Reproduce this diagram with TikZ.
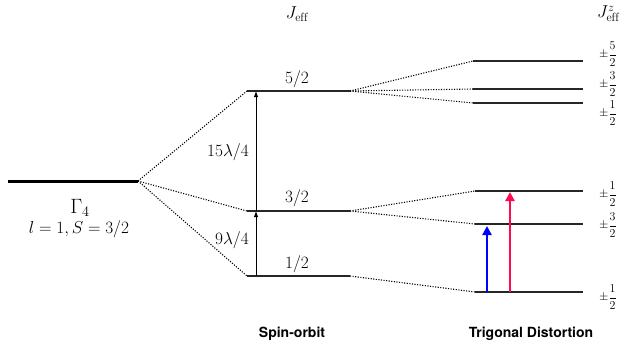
\documentclass[tikz,border=0pt]{standalone}
\usepackage{fontspec}
\newfontfamily\helv{TeX Gyre Heros}
\usetikzlibrary{arrows.meta}
\begin{document}
\begin{tikzpicture}[x=1pt,y=-1pt,
  level/.style={line width=1.2pt, black!85},
  ground/.style={line width=3pt, black},
  conn/.style={line width=1.1pt, dash pattern=on 1.1pt off 1.5pt},
  lbl/.style={font=\fontsize{17}{20}\selectfont, inner sep=0},
  biglbl/.style={font=\fontsize{20}{24}\selectfont, inner sep=0},
  mlbl/.style={font=\fontsize{12.5}{14}\selectfont, inner sep=0, anchor=west},
  captxt/.style={font=\helv\bfseries\fontsize{14}{16}\selectfont, inner sep=0},
  gaparrow/.style={-{Latex[length=6pt,width=4.5pt]}, line width=0.9pt},
  optarrow/.style={-{Triangle[length=9pt,width=9pt]}, line width=2.6pt}]
\useasboundingbox (0,0) rectangle (623,351);
\fill[white] (0,0) rectangle (623,351);
% coordinates
\coordinate (G4L) at (8,181);   \coordinate (G4R) at (138,181);
\coordinate (S52L) at (247,91); \coordinate (S52R) at (350,91);
\coordinate (S32L) at (247,211);\coordinate (S32R) at (350,211);
\coordinate (S12L) at (247,276);\coordinate (S12R) at (350,276);
\coordinate (T1L) at (473,61);  \coordinate (T1R) at (583,61);
\coordinate (T2L) at (473,89);  \coordinate (T2R) at (583,89);
\coordinate (T3L) at (473,103); \coordinate (T3R) at (583,103);
\coordinate (T4L) at (475,191); \coordinate (T4R) at (583,191);
\coordinate (T5L) at (475,224); \coordinate (T5R) at (583,224);
\coordinate (T6L) at (475,292); \coordinate (T6R) at (583,292);
% levels
\draw[ground] (G4L) -- (G4R);
\draw[level] (S52L) -- (S52R);
\draw[level] (S32L) -- (S32R);
\draw[level] (S12L) -- (S12R);
\draw[level] (T1L) -- (T1R);
\draw[level] (T2L) -- (T2R);
\draw[level] (T3L) -- (T3R);
\draw[level] (T4L) -- (T4R);
\draw[level] (T5L) -- (T5R);
\draw[level] (T6L) -- (T6R);
% connectors
\draw[conn] (G4R) -- (S52L);
\draw[conn] (G4R) -- (S32L);
\draw[conn] (G4R) -- (S12L);
\draw[conn] (S52R) -- (T1L);
\draw[conn] (S52R) -- (T2L);
\draw[conn] (S52R) -- (T3L);
\draw[conn] (S32R) -- (T4L);
\draw[conn] (S32R) -- (T5L);
\draw[conn] (S12R) -- (T6L);
% gap arrows
\coordinate (A0) at (256,276);
\coordinate (A1) at (256,211);
\coordinate (A2) at (256,91);
\draw[gaparrow] (A0) -- (A1);
\draw[gaparrow] (A1) -- (A2);
\coordinate (B0) at (487,292); \coordinate (B1) at (487,226);
\coordinate (R0) at (510,292); \coordinate (R1) at (510,192);
\draw[optarrow, draw={rgb,255:red,0;green,0;blue,255}, fill={rgb,255:red,0;green,0;blue,255}] (B0) -- (B1);
\draw[optarrow, draw={rgb,255:red,255;green,10;blue,80}, fill={rgb,255:red,255;green,10;blue,80}] (R0) -- (R1);
% labels
\node[biglbl] (g4) at (80,208) {$\Gamma_4$};
\node[lbl] (ls) at (79,229) {$l=1, S=3/2$};
\node[lbl] (l52) at (297,79) {$5/2$};
\node[lbl] (l32) at (297,198) {$3/2$};
\node[lbl] (l12) at (297,264) {$1/2$};
\node[lbl, anchor=east] (d1) at (249,152) {$15\lambda/4$};
\node[lbl, anchor=east] (d2) at (249,240) {$9\lambda/4$};
\node[lbl] (jeff) at (297,14) {$J_{\mathrm{eff}}$};
\node[lbl, anchor=west] (jz) at (597,14) {$J_{\mathrm{eff}}^{z}$};
\node[mlbl] (m1) at (599,54) {$\displaystyle\pm\frac{5}{2}$};
\node[mlbl] (m2) at (599,84) {$\displaystyle\pm\frac{3}{2}$};
\node[mlbl] (m3) at (599,113) {$\displaystyle\pm\frac{1}{2}$};
\node[mlbl] (m4) at (599,194) {$\displaystyle\pm\frac{1}{2}$};
\node[mlbl] (m5) at (599,225) {$\displaystyle\pm\frac{3}{2}$};
\node[mlbl] (m6) at (599,297) {$\displaystyle\pm\frac{1}{2}$};
\node[captxt] (c1) at (292,334) {Spin-orbit};
\node[captxt] (c2) at (531,334) {Trigonal Distortion};
\end{tikzpicture}
\end{document}
